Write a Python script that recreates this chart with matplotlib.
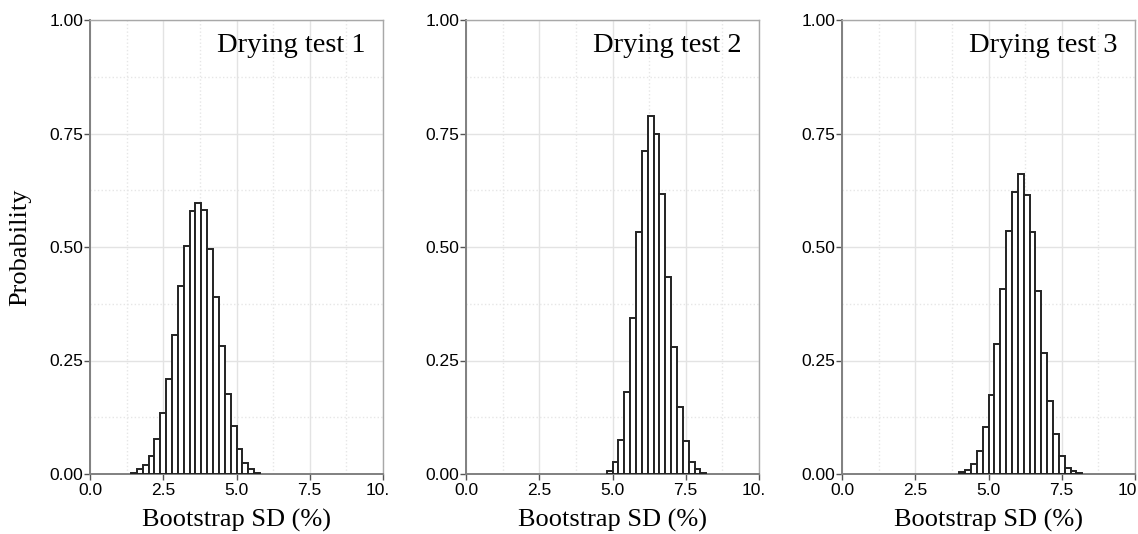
import numpy as np
import matplotlib
matplotlib.use("Agg")
import matplotlib.pyplot as plt
from matplotlib.transforms import Bbox
from matplotlib.ticker import MultipleLocator

# bootstrap SD histograms (probability density, bin width 0.2 %)
titles = ["Drying test 1", "Drying test 2", "Drying test 3"]
bin_width = 0.2
bin_start = [1.4, 4.8, 4.0]

dens_test1 = [0.002, 0.010, 0.020, 0.040, 0.076, 0.134, 0.210, 0.307, 0.415, 0.503, 0.579,
              0.597, 0.582, 0.496, 0.390, 0.281, 0.176, 0.106, 0.054, 0.024, 0.011, 0.002]
dens_test2 = [0.007, 0.027, 0.075, 0.181, 0.343, 0.532, 0.712, 0.789, 0.749, 0.617, 0.435,
              0.279, 0.148, 0.073, 0.027, 0.012, 0.002]
dens_test3 = [0.004, 0.009, 0.023, 0.051, 0.103, 0.173, 0.286, 0.407, 0.536, 0.621, 0.661,
              0.614, 0.532, 0.404, 0.267, 0.161, 0.088, 0.040, 0.014, 0.006, 0.002]
all_dens = [dens_test1, dens_test2, dens_test3]

x_ticks = [0.0, 2.5, 5.0, 7.5, 10.0]
x_ticklabels = ["0.0", "2.5", "5.0", "7.5", "10.0"]
y_ticks = [0.0, 0.25, 0.5, 0.75, 1.0]
y_ticklabels = ["0.00", "0.25", "0.50", "0.75", "1.00"]

W, H = 1138, 534
fig = plt.figure(figsize=(W / 100, H / 100), dpi=100)

serif = ["Liberation Serif", "DejaVu Serif"]
sans = ["Liberation Sans", "DejaVu Sans"]

lefts = [90, 466, 842]
pw, ph = 293, 454
bottom_px = 474

for i in range(3):
    ax = fig.add_axes([lefts[i] / W, (H - bottom_px) / H, pw / W, ph / H])
    dens = np.array(all_dens[i])
    lo = bin_start[i] + bin_width * np.arange(len(dens))
    ax.bar(lo, dens, width=bin_width, align="edge", color="white",
           edgecolor="#222222", linewidth=1.4, zorder=3)

    ax.set_xlim(0, 10)
    ax.set_ylim(0, 1)
    ax.set_xticks(x_ticks)
    ax.set_xticklabels(x_ticklabels, fontfamily=sans, fontsize=12.5)
    ax.set_yticks(y_ticks)
    ax.set_yticklabels(y_ticklabels, fontfamily=sans, fontsize=12.5)
    ax.xaxis.set_minor_locator(MultipleLocator(1.25))
    ax.yaxis.set_minor_locator(MultipleLocator(0.125))
    ax.tick_params(which="major", length=4, width=1, color="#555555", pad=1)
    ax.tick_params(axis="x", which="major", pad=2.5)
    ax.tick_params(which="minor", length=0)

    ax.grid(which="major", color="#e3e3e3", linewidth=1.0, zorder=0)
    ax.grid(which="minor", color="#e6e6e6", linewidth=1.0, linestyle=":", zorder=0)
    ax.set_axisbelow(True)

    for s in ["left", "bottom"]:
        ax.spines[s].set_color("#808080")
        ax.spines[s].set_linewidth(1.4)
    for s in ["top", "right"]:
        ax.spines[s].set_color("#a8a8a8")
        ax.spines[s].set_linewidth(1.0)

    ax.text(9.4, 0.93, titles[i], ha="right", va="baseline",
            fontfamily=serif, fontsize=20.5)
    ax.set_xlabel("Bootstrap SD (%)", fontfamily=serif, fontsize=19, labelpad=8)
    if i == 0:
        ax.set_ylabel("Probability", fontfamily=serif, fontsize=19, labelpad=13)

    # the last x label is cut off just past the panel edge, as in the original
    right_px = lefts[i] + pw + 6
    lab = ax.get_xticklabels()[-1]
    lab.set_clip_box(Bbox([[0, 0], [right_px, H]]))
    lab.set_clip_on(True)

fig.savefig("out.png", dpi=100)
